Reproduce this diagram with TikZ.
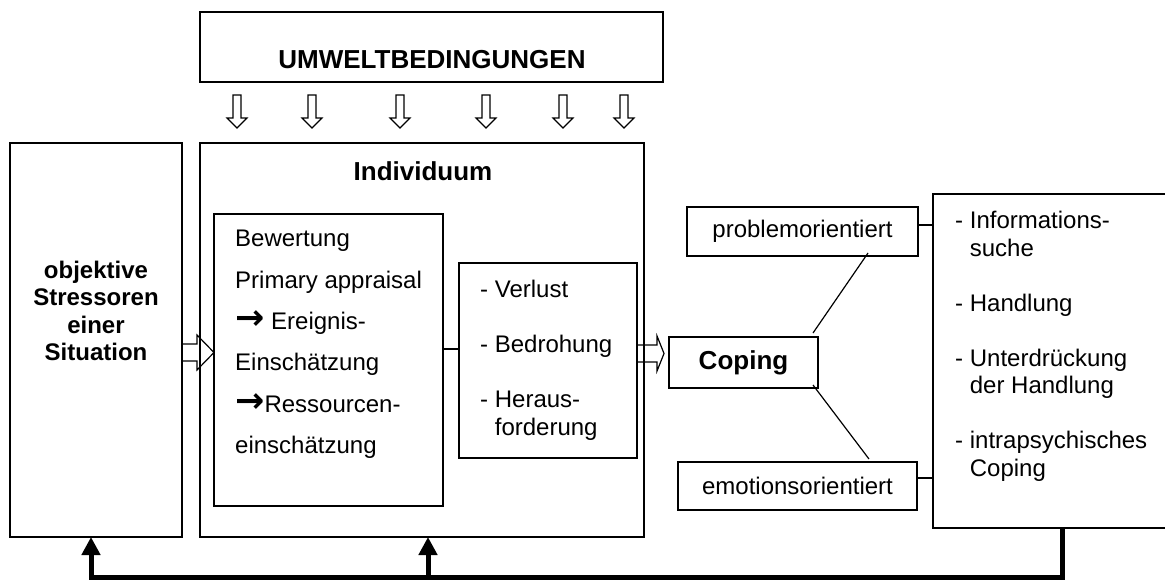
\documentclass[tikz,border=0pt]{standalone}
\usepackage{fontspec}
\setmainfont{Liberation Sans}
\newfontfamily\pfeilfont{DejaVu Sans}
\usetikzlibrary{calc,arrows.meta}
\tikzset{
    kasten/.style={draw=black, line width=1.5pt, inner sep=0, outer sep=0, anchor=north west, font=\fontsize{24}{27.5}\selectfont},
    schrift/.style={inner sep=0, align=left, font=\fontsize{24}{27.5}\selectfont},
    titel/.style={inner sep=0, font=\fontsize{26}{30}\selectfont\bfseries},
    linie/.style={draw=black, line width=1.2pt},
    blockpfeil/.style={draw=black, line width=1.2pt, line join=miter},
    rueck/.style={draw=black, line width=5pt, line join=miter, -{Triangle[width=18pt,length=18pt]}}
}
\newcommand{\pfeil}{{\pfeilfont\bfseries\fontsize{35}{35}\selectfont →}}
% offener Blockpfeil nach rechts: Start, Ziel, Kopflaenge
\newcommand{\pfeilrechts}[3]{%
    \draw[blockpfeil] let \p1=(#1), \p2=(#2) in
        (\x1,\y1+8.5pt) -- (\x2-#3pt,\y1+8.5pt) -- (\x2-#3pt,\y1+17.5pt) -- (\x2,\y1)
        -- (\x2-#3pt,\y1-17.5pt) -- (\x2-#3pt,\y1-8.5pt) -- (\x1,\y1-8.5pt) -- cycle;}
% offener Blockpfeil nach unten: Start, Ziel
\newcommand{\pfeilrunter}[2]{%
    \draw[blockpfeil] let \p1=(#1), \p2=(#2) in
        (\x1-4pt,\y1) -- (\x1-4pt,\y2+10pt) -- (\x1-10pt,\y2+10pt) -- (\x1,\y2)
        -- (\x1+10pt,\y2+10pt) -- (\x1+4pt,\y2+10pt) -- (\x1+4pt,\y1) -- cycle;}

\begin{document}
\begin{tikzpicture}[x=1pt, y=-1pt]
    \useasboundingbox (0,0) rectangle (1165,579);

    % Kaesten
    \node[kasten, minimum width=463pt, minimum height=70pt] (umwelt) at (200,12) {};
    \node[titel, anchor=base] (umwelttext) at ($(umwelt.south)+(0.5,-14)$) {UMWELTBEDINGUNGEN};

    \node[kasten, minimum width=172pt, minimum height=394pt] (stress) at (10,143) {};
    \node[schrift, align=center, anchor=north, font=\fontsize{24}{27.3}\selectfont\bfseries]
        (stresstext) at ($(stress.north)+(0,118)$) {objektive\\Stressoren\\einer\\Situation};

    \node[kasten, minimum width=444pt, minimum height=394pt] (indiv) at (200,143) {};
    \node[titel, anchor=base] (indivtext) at ($(indiv.north)+(1,37)$) {Individuum};

    \node[kasten, minimum width=229pt, minimum height=292pt] (bewertung) at (214,214) {};
    \node[schrift, anchor=north west, font=\fontsize{24}{41.4}\selectfont]
        (bewertungtext) at ($(bewertung.north west)+(21,16)$)
        {Bewertung\\Primary appraisal\\\pfeil\ Ereignis-\\Einschätzung\\\pfeil Ressourcen-\\einschätzung};

    \node[kasten, minimum width=178pt, minimum height=195pt] (verlust) at (459,263) {};
    \node[schrift, anchor=north west] (verlusttext) at ($(verlust.north west)+(21,17)$)
        {- Verlust\\[27.5pt]- Bedrohung\\[27.5pt]- Heraus-\\\phantom{- }forderung};

    \node[kasten, minimum width=149pt, minimum height=51pt, font=\fontsize{26}{30}\selectfont\bfseries]
        (coping) at (669,337) {Coping};
    \node[kasten, minimum width=231pt, minimum height=49pt] (problem) at (687,207) {problemorientiert};
    \node[kasten, minimum width=239pt, minimum height=48pt] (emotion) at (678,462) {emotionsorientiert};

    \node[kasten, minimum width=242pt, minimum height=334pt] (info) at (933,194) {};
    \node[schrift, anchor=north west] (infotext) at ($(info.north west)+(22,17)$)
        {- Informations-\\\phantom{- }suche\\[27.5pt]- Handlung\\[27.5pt]- Unterdrückung\\\phantom{- }der Handlung\\[27.5pt]- intrapsychisches\\\phantom{- }Coping};

    % Verbindungen
    \draw[linie] ($(bewertung.east)+(0,-11)$) -- ($(bewertung.east -| verlust.west)+(0,-11)$);
    \draw[linie] ($(problem.east)+(0,-6.5)$) -- ($(problem.east -| info.west)+(0,-6.5)$);
    \draw[linie] ($(emotion.east)+(0,-8)$) -- ($(emotion.east -| info.west)+(0,-8)$);
    \draw[linie] ($(coping.north east)+(-5,-4)$) -- ($(problem.south east)+(-50,-3)$);
    \draw[linie] ($(coping.south east)+(-5,-3)$) -- ($(emotion.north east)+(-48,-3)$);

    % Blockpfeile
    \foreach \pos in {237,312,400,486,563,624}
        \pfeilrunter{$(umwelt.south -| \pos,0)+(0,13)$}{$(indiv.north -| \pos,0)+(0,-15)$};
    \pfeilrechts{$(stress.east)+(0,12.5)$}{bewertung.west}{17}
    \pfeilrechts{$(verlust.east)+(0,-7)$}{$(coping.west)+(-5,0)$}{7}

    % Rueckkopplung
    \coordinate (rueckrechts) at (1062,577);
    \coordinate (rueckmitte) at (428,577);
    \coordinate (ruecklinks) at (91,577);
    \draw[rueck] (info.south -| rueckrechts) -- (rueckrechts) -- (ruecklinks) -- (ruecklinks |- stress.south);
    \draw[rueck] (rueckmitte) -- (rueckmitte |- indiv.south);
\end{tikzpicture}
\end{document}
